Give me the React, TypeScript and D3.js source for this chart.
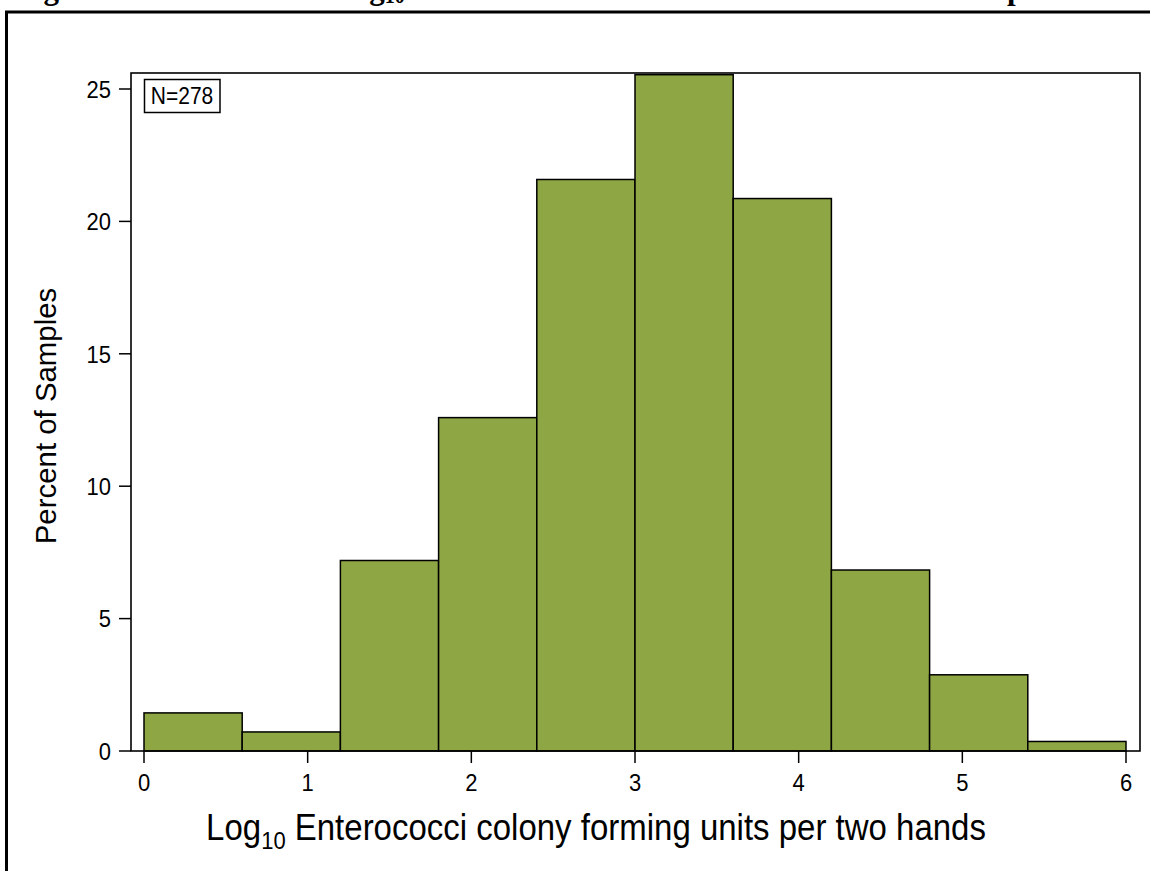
import React from "react";
import * as d3 from "d3";

const binStarts = [0, 0.6, 1.2, 1.8, 2.4, 3.0, 3.6, 4.2, 4.8, 5.4];
const binWidth = 0.6;
const counts = [4, 2, 20, 35, 60, 71, 58, 19, 8, 1];
const totalN = 278;
const percents = counts.map((c) => (c / totalN) * 100);
const xTicks = [0, 1, 2, 3, 4, 5, 6];
const yTicks = [0, 5, 10, 15, 20, 25];

const W = 1150;
const H = 871;
const frame = { left: 131, right: 1140, top: 73, bottom: 751 };
const FILL = "#8EA744";
const SANS = "'Liberation Sans', Arial, sans-serif";

export default function App() {
  const x = d3.scaleLinear().domain([0, 6]).range([144, 1126]);
  const y = d3.scaleLinear().domain([0, 25]).range([751, 89]);

  return (
    <svg
      width={W}
      height={H}
      style={{ position: "absolute", left: 0, top: 0, background: "#fff" }}
    >
      <rect x={0} y={0} width={W} height={H} fill="#fff" />
      <text
        x={16}
        y={-1}
        fontFamily="'Liberation Serif', 'Times New Roman', serif"
        fontWeight="bold"
        fontSize={31}
        fill="#000"
      >
        Figure 2. Distribution of log<tspan fontSize={20} dy={4}>10</tspan>
        <tspan dy={-4}> enterococci concentrations in hand rinse samples.</tspan>
      </text>
      {/* outer figure border */}
      <path d={`M6.5,${H + 5} V12 H${W + 5}`} fill="none" stroke="#000" strokeWidth={3} />

      {/* bars */}
      {binStarts.map((s, i) => (
        <rect
          key={i}
          x={x(s)}
          y={y(percents[i])}
          width={x(s + binWidth) - x(s)}
          height={y(0) - y(percents[i])}
          fill={FILL}
          stroke="#000"
          strokeWidth={1.5}
        />
      ))}

      {/* plot frame */}
      <rect
        x={frame.left}
        y={frame.top}
        width={frame.right - frame.left}
        height={frame.bottom - frame.top}
        fill="none"
        stroke="#000"
        strokeWidth={1.6}
      />

      {/* y ticks */}
      {yTicks.map((t) => (
        <g key={"y" + t}>
          <line x1={frame.left - 12} x2={frame.left} y1={y(t)} y2={y(t)} stroke="#000" strokeWidth={1.5} />
          <text
            transform={`translate(${frame.left - 20}, ${y(t)}) scale(1, 1.1)`}
            dy="0.36em"
            textAnchor="end"
            fontFamily={SANS}
            fontSize={22}
            fill="#000"
          >
            {t}
          </text>
        </g>
      ))}

      {/* x ticks */}
      {xTicks.map((t) => (
        <g key={"x" + t}>
          <line x1={x(t)} x2={x(t)} y1={frame.bottom} y2={frame.bottom + 12} stroke="#000" strokeWidth={1.5} />
          <text
            transform={`translate(${x(t)}, ${frame.bottom + 40}) scale(1, 1.1)`}
            textAnchor="middle"
            fontFamily={SANS}
            fontSize={22}
            fill="#000"
          >
            {t}
          </text>
        </g>
      ))}

      {/* N box */}
      <rect x={144.5} y={79.5} width={75.5} height={33} fill="#fff" stroke="#000" strokeWidth={1.5} />
      <text
        transform={`translate(182, 96) scale(1, 1.1)`}
        dy="0.36em"
        textAnchor="middle"
        fontFamily={SANS}
        fontSize={21}
        fill="#000"
      >
        N={totalN}
      </text>

      {/* axis labels */}
      <text
        transform={`translate(56, ${(frame.top + frame.bottom) / 2 + 4}) rotate(-90) scale(1.05, 1.08)`}
        textAnchor="middle"
        fontFamily={SANS}
        fontSize={28}
        fill="#000"
      >
        Percent of Samples
      </text>
      <text
        transform={`translate(596, 840) scale(1.0, 1.12)`}
        textAnchor="middle"
        fontFamily={SANS}
        fontSize={33}
        fill="#000"
      >
        Log<tspan fontSize={22} dy={8}>10</tspan>
        <tspan dy={-8}> Enterococci colony forming units per two hands</tspan>
      </text>
    </svg>
  );
}
